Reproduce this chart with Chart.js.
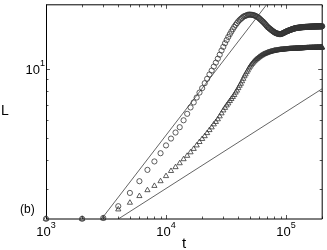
<!DOCTYPE html>
<html>
<head>
<meta charset="utf-8">
<script src="https://cdn.jsdelivr.net/npm/chart.js@4/dist/chart.umd.min.js"></script>
<style>
  html, body { margin: 0; padding: 0; background: #fff; }
  canvas { display: block; }
</style>
</head>
<body>
<canvas id="growthChart" width="327" height="250"></canvas>
<script>
// time samples (every 1000 steps)
const times = [
  1e3,2e3,3e3,4e3,5e3,6e3,7e3,8e3,9e3,10e3,11e3,12e3,13e3,14e3,15e3,16e3,17e3,18e3,19e3,20e3,
  21e3,22e3,23e3,24e3,25e3,26e3,27e3,28e3,29e3,30e3,31e3,32e3,33e3,34e3,35e3,36e3,37e3,38e3,39e3,40e3,
  41e3,42e3,43e3,44e3,45e3,46e3,47e3,48e3,49e3,50e3,51e3,52e3,53e3,54e3,55e3,56e3,57e3,58e3,59e3,60e3,
  61e3,62e3,63e3,64e3,65e3,66e3,67e3,68e3,69e3,70e3,71e3,72e3,73e3,74e3,75e3,76e3,77e3,78e3,79e3,80e3,
  81e3,82e3,83e3,84e3,85e3,86e3,87e3,88e3,89e3,90e3,91e3,92e3,93e3,94e3,95e3,96e3,97e3,98e3,99e3,100e3,
  101e3,102e3,103e3,104e3,105e3,106e3,107e3,108e3,109e3,110e3,111e3,112e3,113e3,114e3,115e3,116e3,117e3,118e3,119e3,120e3,
  121e3,122e3,123e3,124e3,125e3,126e3,127e3,128e3,129e3,130e3,131e3,132e3,133e3,134e3,135e3,136e3,137e3,138e3,139e3,140e3,
  141e3,142e3,143e3,144e3,145e3,146e3,147e3,148e3,149e3,150e3,151e3,152e3,153e3,154e3,155e3,156e3,157e3,158e3,159e3,160e3,
  161e3,162e3,163e3,164e3,165e3,166e3,167e3,168e3,169e3,170e3,171e3,172e3,173e3,174e3,175e3,176e3,177e3,178e3,179e3,180e3,
  181e3,182e3,183e3,184e3,185e3,186e3,187e3,188e3,189e3,190e3,191e3,192e3,193e3,194e3,195e3,196e3,197e3,198e3,199e3,200e3
];

// L for the circle series (overshoots, then settles)
const circleL = [
  2.23,2.23,2.25,2.53,2.89,3.25,3.64,3.96,4.30,4.65,
  4.98,5.29,5.58,5.98,6.38,6.80,7.15,7.51,7.89,8.25,
  8.67,9.06,9.46,9.84,10.24,10.65,11.08,11.53,12.02,12.47,
  12.93,13.35,13.77,14.16,14.53,14.89,15.23,15.54,15.82,16.10,
  16.31,16.51,16.67,16.87,16.95,17.04,17.10,17.19,17.22,17.22,
  17.20,17.19,17.15,17.10,17.05,16.97,16.88,16.80,16.69,16.56,
  16.43,16.30,16.17,16.06,15.93,15.79,15.66,15.52,15.38,15.25,
  15.14,15.06,14.97,14.88,14.79,14.72,14.63,14.56,14.50,14.43,
  14.37,14.33,14.29,14.26,14.23,14.20,14.19,14.17,14.17,14.17,
  14.19,14.22,14.25,14.29,14.33,14.36,14.40,14.45,14.49,14.53,
  14.56,14.59,14.62,14.65,14.68,14.71,14.74,14.77,14.79,14.82,
  14.85,14.88,14.89,14.93,14.94,14.96,14.99,15.00,15.02,15.03,
  15.05,15.06,15.08,15.08,15.09,15.11,15.11,15.12,15.12,15.14,
  15.14,15.15,15.15,15.17,15.17,15.18,15.18,15.18,15.20,15.20,
  15.20,15.21,15.21,15.21,15.23,15.23,15.23,15.23,15.24,15.24,
  15.24,15.25,15.24,15.25,15.26,15.25,15.26,15.26,15.27,15.26,
  15.27,15.27,15.28,15.27,15.28,15.28,15.27,15.28,15.29,15.28,
  15.29,15.29,15.28,15.29,15.30,15.29,15.30,15.30,15.29,15.30,
  15.31,15.30,15.30,15.31,15.31,15.30,15.31,15.32,15.31,15.31,
  15.32,15.31,15.32,15.32,15.31,15.32,15.33,15.32,15.32,15.33
];

// L for the triangle series (monotone rise to a plateau)
const triangleL = [
  2.23,2.23,2.24,2.45,2.62,2.80,2.97,3.10,3.25,3.42,
  3.60,3.74,3.89,4.05,4.19,4.34,4.49,4.65,4.81,4.96,
  5.10,5.26,5.42,5.57,5.74,5.88,6.04,6.22,6.41,6.60,
  6.77,6.94,7.08,7.25,7.40,7.55,7.70,7.89,8.05,8.25,
  8.45,8.62,8.84,9.06,9.29,9.47,9.68,9.85,10.05,10.22,
  10.37,10.51,10.64,10.76,10.86,10.96,11.05,11.12,11.20,11.28,
  11.35,11.41,11.47,11.53,11.57,11.62,11.65,11.69,11.73,11.77,
  11.79,11.83,11.85,11.88,11.90,11.92,11.95,11.96,11.99,12.01,
  12.02,12.03,12.04,12.05,12.07,12.08,12.09,12.10,12.11,12.12,
  12.13,12.14,12.14,12.15,12.16,12.16,12.17,12.18,12.18,12.19,
  12.19,12.20,12.20,12.21,12.21,12.22,12.22,12.23,12.23,12.23,
  12.24,12.24,12.24,12.25,12.25,12.26,12.26,12.26,12.27,12.27,
  12.27,12.28,12.28,12.28,12.29,12.29,12.29,12.29,12.30,12.30,
  12.30,12.30,12.31,12.31,12.31,12.31,12.31,12.32,12.32,12.32,
  12.32,12.32,12.33,12.33,12.33,12.33,12.33,12.33,12.34,12.34,
  12.34,12.34,12.34,12.34,12.34,12.35,12.35,12.35,12.35,12.35,
  12.35,12.35,12.35,12.36,12.36,12.36,12.36,12.36,12.36,12.36,
  12.36,12.36,12.37,12.37,12.37,12.37,12.37,12.37,12.37,12.37,
  12.37,12.38,12.38,12.38,12.38,12.38,12.38,12.38,12.38,12.38,
  12.38,12.39,12.39,12.39,12.39,12.39,12.39,12.39,12.39,12.39
];

// reference power-law lines (end points)
const steepLineT = [2900, 68700];
const steepLineL = [2.226, 19.0];
const shallowLineT = [4000, 200000];
const shallowLineL = [2.226, 8.2];

// axes
const tMin = 1000, tMax = 200000;
const LMin = 2.226, LMax = 19.0;
const xMajorTicks = [1e3, 1e4, 1e5];
const xMajorExps = ['3', '4', '5'];
const xMinorTicks = [2e3,3e3,4e3,5e3,6e3,7e3,8e3,9e3,2e4,3e4,4e4,5e4,6e4,7e4,8e4,9e4,2e5];
const yMajorTicks = [10];
const yMajorExps = ['1'];
const yMinorTicks = [3, 4, 5, 6, 7, 8, 9];

const FONT = '"Liberation Sans", Arial, Helvetica, sans-serif';

const pts = (xs, ys) => xs.map((x, i) => ({ x: x, y: ys[i] }));

// box, inward ticks and labels in matlab style
const frame = {
    id: 'frame',
    beforeDatasetsDraw(chart) {
        const { ctx, chartArea: a, scales: { x, y } } = chart;
        ctx.save();
        ctx.lineWidth = 1;
        ctx.strokeStyle = '#000';
        const seg = (x1, y1, x2, y2) => {
            ctx.beginPath(); ctx.moveTo(x1, y1); ctx.lineTo(x2, y2); ctx.stroke();
        };
        // ticks
        ctx.strokeStyle = '#555';
        xMajorTicks.concat(xMinorTicks).forEach(v => {
            const px = Math.round(x.getPixelForValue(v)) + 0.5;
            const len = xMajorTicks.includes(v) ? 4 : 2.5;
            seg(px, a.bottom, px, a.bottom - len);
            seg(px, a.top, px, a.top + len);
        });
        yMajorTicks.concat(yMinorTicks).forEach(v => {
            const py = Math.round(y.getPixelForValue(v)) + 0.5;
            const len = yMajorTicks.includes(v) ? 4 : 2.5;
            seg(a.left, py, a.left + len, py);
            seg(a.right, py, a.right - len, py);
        });
        // box
        ctx.strokeStyle = '#000';
        seg(a.left, a.top, a.right, a.top);
        seg(a.right, a.top, a.right, a.bottom);
        seg(a.left, a.bottom, a.right, a.bottom);
        seg(a.left + 0.5, a.top, a.left + 0.5, a.bottom);

        // tick labels
        ctx.fillStyle = '#000';
        ctx.textBaseline = 'alphabetic';
        xMajorTicks.forEach((v, i) => {
            const px = x.getPixelForValue(v);
            ctx.font = '13px ' + FONT;
            const wb = ctx.measureText('10').width;
            ctx.font = '9px ' + FONT;
            const we = ctx.measureText(xMajorExps[i]).width;
            const x0 = px - (wb + we) / 2;
            ctx.font = '13px ' + FONT;
            ctx.textAlign = 'left';
            ctx.fillText('10', x0, 236);
            ctx.font = '9px ' + FONT;
            ctx.fillText(xMajorExps[i], x0 + wb, 228);
        });
        yMajorTicks.forEach((v, i) => {
            const py = y.getPixelForValue(v);
            ctx.font = '9px ' + FONT;
            const we = ctx.measureText(yMajorExps[i]).width;
            const xr = a.left - 1;
            ctx.textAlign = 'right';
            ctx.fillText(yMajorExps[i], xr, py - 3);
            ctx.font = '13px ' + FONT;
            ctx.fillText('10', xr - we, py + 5.5);
        });

        // axis titles and panel tag
        ctx.textAlign = 'center';
        ctx.font = '15px ' + FONT;
        ctx.fillText('t', (a.left + a.right) / 2, 248);
        ctx.textAlign = 'left';
        ctx.font = '14px ' + FONT;
        ctx.fillText('L', 1, 115);
        ctx.font = '12px ' + FONT;
        ctx.fillText('(b)', 20, 213);
        ctx.restore();
    }
};

const ctx = document.getElementById('growthChart').getContext('2d');
const growthChart = new Chart(ctx, {
    type: 'scatter',
    data: {
        datasets: [{
            label: 'circles',
            data: pts(times, circleL),
            pointStyle: 'circle',
            pointRadius: 2.6,
            pointBorderWidth: 0.8,
            borderColor: '#333',
            backgroundColor: 'rgba(0,0,0,0)',
            clip: false
        }, {
            label: 'triangles',
            data: pts(times, triangleL),
            pointStyle: 'triangle',
            pointRadius: 3,
            pointBorderWidth: 0.8,
            borderColor: '#333',
            backgroundColor: 'rgba(0,0,0,0)',
            clip: false
        }, {
            label: 'steep fit',
            data: pts(steepLineT, steepLineL),
            showLine: true,
            borderColor: '#222',
            borderWidth: 0.7,
            pointRadius: 0
        }, {
            label: 'shallow fit',
            data: pts(shallowLineT, shallowLineL),
            showLine: true,
            borderColor: '#222',
            borderWidth: 0.7,
            pointRadius: 0
        }]
    },
    options: {
        responsive: false,
        animation: false,
        events: [],
        layout: { padding: { left: 46, right: 3, top: 2, bottom: 31 } },
        plugins: {
            legend: { display: false },
            tooltip: { enabled: false }
        },
        scales: {
            x: { type: 'logarithmic', min: tMin, max: tMax, display: false },
            y: { type: 'logarithmic', min: LMin, max: LMax, display: false }
        }
    },
    plugins: [frame]
});
</script>
</body>
</html>
